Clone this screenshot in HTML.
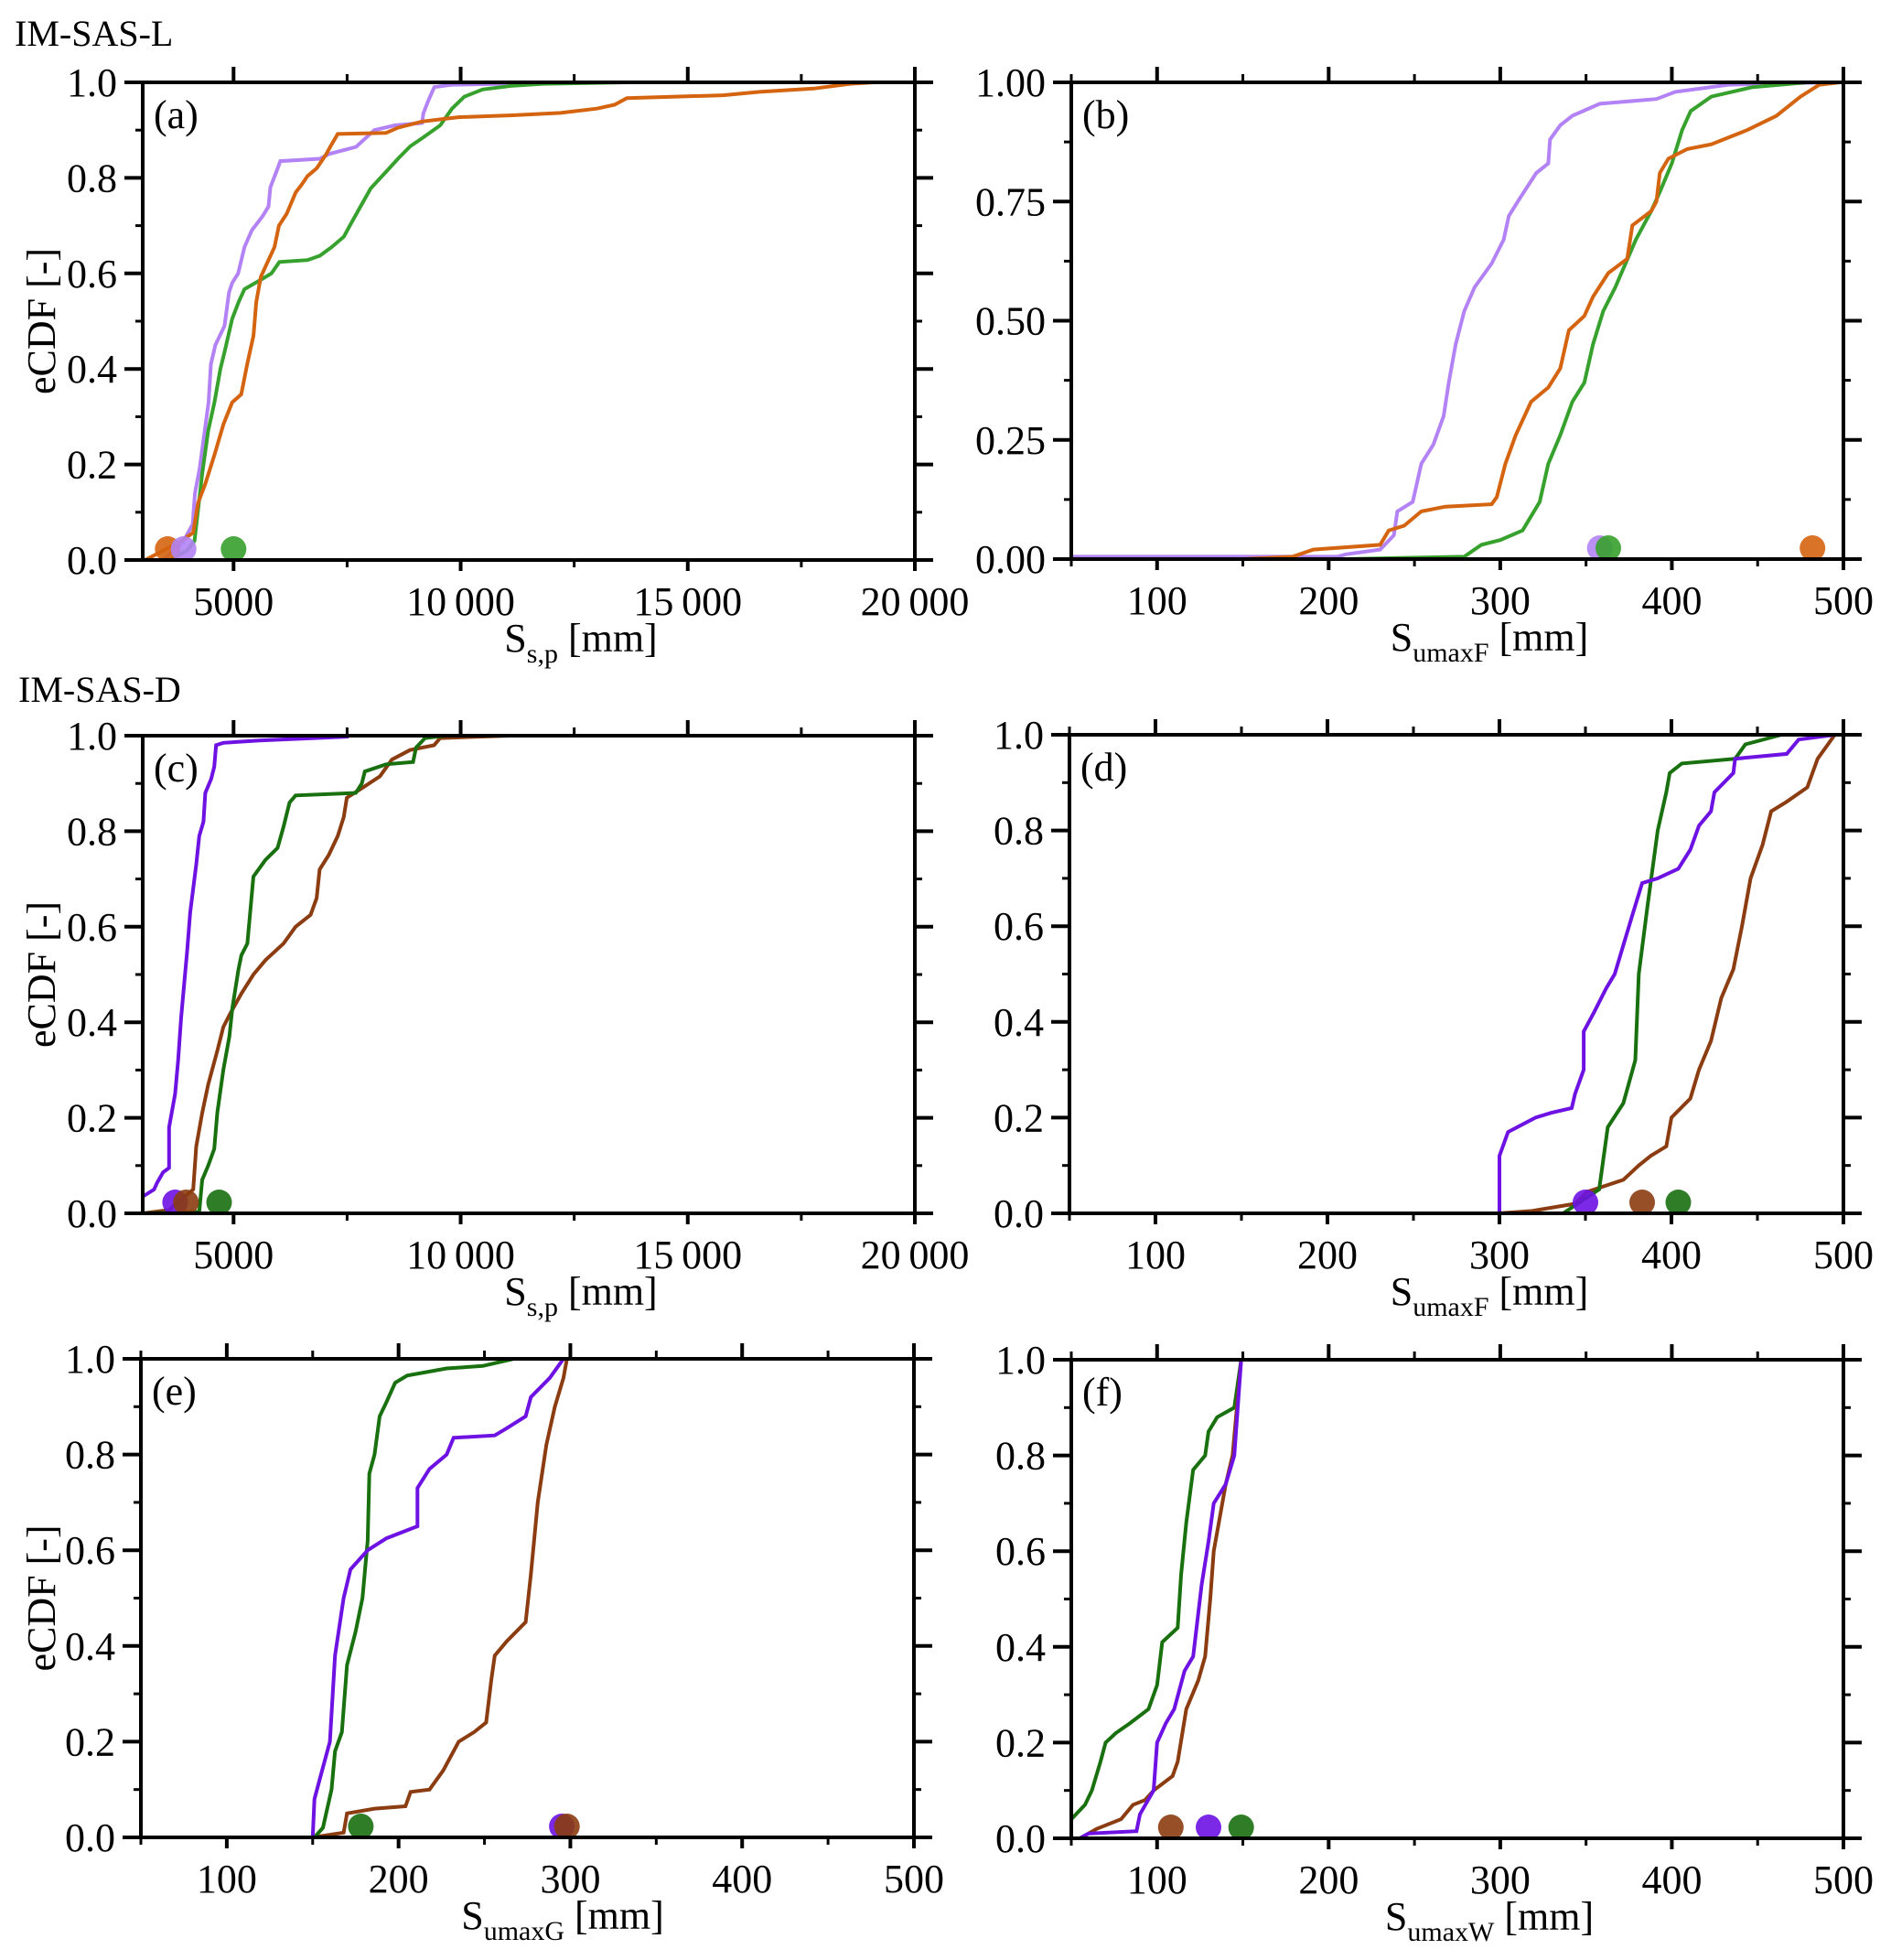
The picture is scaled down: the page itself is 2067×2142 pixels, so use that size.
<!DOCTYPE html>
<html><head><meta charset="utf-8">
<style>
html,body{margin:0;padding:0;background:#fff;}
svg{display:block;}
text{font-family:"Liberation Serif","Times New Roman",serif;fill:#000;}
</style></head>
<body>
<svg id="fig" width="2067" height="2142" viewBox="0 0 2067 2142" xmlns="http://www.w3.org/2000/svg">
<rect x="0" y="0" width="2067" height="2142" fill="#fff"/>
<text x="16" y="50" font-size="40">IM-SAS-L</text>
<text x="20" y="767" font-size="40">IM-SAS-D</text>
</svg>
<script>
// ---------- data ----------
// panel a
const aPurpleX=[3450,3900,4100,4150,4250,4450,4500,4600,4800,4900,4970,5100,5240,5400,5640,5770,5810,5970,6030,6900,7100,7700,8100,8550,9150,9180,9280,9420,9800,13100];
const aPurpleY=[0,0.04,0.075,0.14,0.19,0.33,0.41,0.45,0.49,0.56,0.58,0.6,0.655,0.69,0.72,0.74,0.78,0.82,0.835,0.84,0.85,0.865,0.9,0.91,0.915,0.935,0.96,0.99,0.995,1.0];
const aGreenX=[3580,3980,4140,4310,4440,4580,4710,4800,4970,5110,5240,5570,5835,6010,6630,6900,7160,7430,7560,7760,8020,8360,8620,8890,9150,9550,9810,10080,10480,11140,11800,13660];
const aGreenY=[0,0.02,0.04,0.18,0.27,0.33,0.4,0.435,0.505,0.54,0.567,0.585,0.6,0.624,0.628,0.637,0.655,0.677,0.7,0.734,0.778,0.813,0.84,0.866,0.883,0.91,0.945,0.97,0.985,0.993,0.997,1.0];
const aOrangeX=[3050,3320,3850,4110,4220,4380,4580,4780,4970,5170,5300,5440,5500,5600,5770,5900,6000,6170,6370,6500,6630,6830,7030,7135,7294,8355,8620,9150,9946,11140,12200,13000,13390,13660,15780,16580,17770,18570,19100];
const aOrangeY=[0,0.013,0.04,0.057,0.12,0.16,0.22,0.285,0.33,0.347,0.41,0.47,0.54,0.593,0.628,0.655,0.7,0.725,0.77,0.786,0.804,0.82,0.848,0.866,0.892,0.894,0.905,0.918,0.927,0.931,0.936,0.945,0.953,0.967,0.973,0.98,0.987,0.997,1.0];
const aDots=[3550,3900,5000];
// panel b
const bPurpleX=[50,205,210,230,238,240,249,254,261,267,270,274,279,285,295,302,305,312,321,328,329,335,342,358,391,402,433,490];
const bPurpleY=[0.005,0.005,0.01,0.02,0.05,0.1,0.12,0.2,0.24,0.3,0.37,0.45,0.52,0.57,0.62,0.67,0.72,0.76,0.81,0.83,0.88,0.91,0.93,0.955,0.965,0.98,0.995,1.0];
const bOrangeX=[150,179,191,230,235,244,254,268,295,298,303,309,318,328,335,340,349,354,363,374,377,388,391,393,398,409,423,444,461,475,486,498];
const bOrangeY=[0,0.005,0.02,0.03,0.06,0.07,0.1,0.11,0.115,0.13,0.2,0.26,0.33,0.36,0.4,0.48,0.51,0.55,0.6,0.63,0.7,0.73,0.75,0.81,0.84,0.86,0.87,0.9,0.93,0.97,0.995,1.0];
const bGreenX=[210,279,289,300,313,323,328,335,342,349,354,360,367,379,388,393,400,406,411,423,447,479];
const bGreenY=[0,0.005,0.03,0.04,0.06,0.12,0.2,0.26,0.33,0.37,0.45,0.52,0.57,0.67,0.73,0.77,0.83,0.9,0.94,0.97,0.99,1.0];
const bDots=[358,363,482];
// panel c
const cPurpleX=[3000,3250,3316,3449,3581,3581,3714,3780,3846,3913,3979,4045,4112,4178,4244,4337,4377,4509,4576,4615,4775,5570,7533];
const cPurpleY=[0.035,0.05,0.064,0.086,0.095,0.18,0.25,0.32,0.41,0.48,0.55,0.63,0.68,0.73,0.79,0.82,0.88,0.91,0.935,0.98,0.985,0.99,0.998];
const cBrownX=[3000,3581,4112,4178,4310,4443,4642,4775,4907,5172,5438,5703,6101,6366,6697,6830,6896,7095,7294,7427,7493,7824,8222,8487,8885,9415,9548,11073];
const cBrownY=[0,0.007,0.05,0.14,0.21,0.27,0.34,0.39,0.415,0.46,0.5,0.53,0.565,0.6,0.625,0.66,0.72,0.75,0.79,0.83,0.87,0.89,0.915,0.95,0.97,0.98,0.995,1.0];
const cGreenX=[3000,4244,4310,4443,4576,4642,4775,4907,4973,5106,5172,5305,5371,5438,5703,5968,6101,6233,6366,7692,7824,7891,8355,8952,9018,9216,9680];
const cGreenY=[0,0.003,0.07,0.1,0.135,0.21,0.3,0.37,0.43,0.51,0.54,0.565,0.635,0.705,0.74,0.765,0.81,0.86,0.875,0.88,0.9,0.925,0.94,0.945,0.975,0.995,1.0];
const cDots=[3714,3953,4682];
// panel d
const dPurpleX=[300,300,305,321,330,342,344,349,349,355,362,367,372,377,383,392,404,411,416,423,425,436,437,467,474,495];
const dPurpleY=[0,0.12,0.17,0.2,0.21,0.22,0.25,0.3,0.38,0.42,0.47,0.5,0.56,0.62,0.69,0.7,0.72,0.76,0.81,0.84,0.88,0.92,0.95,0.96,0.99,1.0];
const dGreenX=[337,358,363,372,379,381,386,392,397,399,406,437,443,464];
const dGreenY=[0,0.05,0.18,0.23,0.32,0.5,0.64,0.8,0.88,0.92,0.94,0.95,0.98,1.0];
const dBrownX=[300,319,344,351,372,381,388,397,400,411,416,423,429,436,441,446,453,458,467,479,485,495];
const dBrownY=[0,0.005,0.02,0.045,0.07,0.1,0.12,0.14,0.2,0.24,0.3,0.36,0.45,0.51,0.6,0.7,0.77,0.84,0.86,0.89,0.95,1.0];
const dDots=[350,383,404];
// panel e
const eGreenX=[151,156,161,163,167,170,175,179,182,183,186,189,193,198,205,228,249,267];
const eGreenY=[0,0.02,0.1,0.18,0.22,0.36,0.43,0.5,0.62,0.76,0.8,0.88,0.91,0.95,0.965,0.98,0.985,1.0];
const ePurpleX=[150,151,154,160,163,168,172,182,193,211,211,218,228,232,256,263,274,277,288,296];
const ePurpleY=[0,0.08,0.12,0.2,0.38,0.5,0.56,0.6,0.625,0.65,0.73,0.77,0.8,0.835,0.84,0.855,0.88,0.92,0.96,1.0];
const eBrownX=[150,168,170,186,204,207,218,226,235,244,251,254,256,263,274,277,281,286,291,296,298];
const eBrownY=[0,0.01,0.05,0.06,0.065,0.095,0.1,0.14,0.2,0.22,0.24,0.33,0.38,0.41,0.45,0.55,0.7,0.82,0.9,0.96,1.0];
const eDots=[178,295,298];
// panel f
const fGreenX=[50,50,58,62,67,70,76,84,95,100,103,112,114,117,121,128,130,135,145,149];
const fGreenY=[0,0.04,0.07,0.1,0.16,0.2,0.22,0.24,0.27,0.32,0.41,0.44,0.55,0.66,0.77,0.8,0.85,0.88,0.9,1.0];
const fPurpleX=[55,60,88,90,98,100,105,110,116,121,126,130,133,140,145,149];
const fPurpleY=[0,0.01,0.015,0.05,0.1,0.2,0.24,0.27,0.35,0.38,0.53,0.62,0.7,0.74,0.8,1.0];
const fBrownX=[55,65,79,86,93,98,109,112,117,124,128,131,133,137,140,144,149];
const fBrownY=[0,0.02,0.04,0.07,0.08,0.1,0.13,0.16,0.27,0.33,0.38,0.5,0.6,0.68,0.74,0.8,1.0];
const fDots=[108,130,149];

// tick labels
const xTicksS=[5000,10000,15000,20000];
const xTickLabelsS=["5000","10\u2009000","15\u2009000","20\u2009000"];
const xMinorS=[7500,12500,17500];
const xTicksU=[100,200,300,400,500];
const xMinorU=[50,150,250,350,450];
const yTicks10=[0,0.2,0.4,0.6,0.8,1.0];
const yTickLabels10=["0.0","0.2","0.4","0.6","0.8","1.0"];
const yMinor10=[0.1,0.3,0.5,0.7,0.9];
const yTicks4=[0,0.25,0.5,0.75,1.0];
const yTickLabels4=["0.00","0.25","0.50","0.75","1.00"];
const yMinor4=[0.125,0.375,0.625,0.875];

const LP="#b383f5",OR="#d4640f",GL="#36a12c",DP="#6d12e3",BR="#8b3c10",DG="#18700f";
const NS="http://www.w3.org/2000/svg";
const svg=document.getElementById('fig');
function mk(tag,attrs,parent){const e=document.createElementNS(NS,tag);for(const k in attrs)e.setAttribute(k,attrs[k]);(parent||svg).appendChild(e);return e;}

const panels=[
 {id:'a',L:156,R:1000,T:90,B:612,x0:3000,x1:20000,xt:xTicksS,xl:xTickLabelsS,xm:xMinorS,yt:yTicks10,yl:yTickLabels10,ym:yMinor10,ylab:true,title:['S','s,p'],tx:635,
  series:[[aPurpleX,aPurpleY,LP],[aGreenX,aGreenY,GL],[aOrangeX,aOrangeY,OR]],dots:[[aDots[0],OR],[aDots[1],LP],[aDots[2],GL]]},
 {id:'b',L:1171,R:2015,T:90,B:611,x0:50,x1:500,xt:xTicksU,xl:null,xm:xMinorU,yt:yTicks4,yl:yTickLabels4,ym:yMinor4,ylab:false,title:['S','umaxF'],tx:1628,
  series:[[bPurpleX,bPurpleY,LP],[bGreenX,bGreenY,GL],[bOrangeX,bOrangeY,OR]],dots:[[bDots[0],LP],[bDots[1],GL],[bDots[2],OR]]},
 {id:'c',L:156,R:1000,T:804,B:1326,x0:3000,x1:20000,xt:xTicksS,xl:xTickLabelsS,xm:xMinorS,yt:yTicks10,yl:yTickLabels10,ym:yMinor10,ylab:true,title:['S','s,p'],tx:635,
  series:[[cBrownX,cBrownY,BR],[cGreenX,cGreenY,DG],[cPurpleX,cPurpleY,DP]],dots:[[cDots[0],DP],[cDots[1],BR],[cDots[2],DG]]},
 {id:'d',L:1169,R:2015,T:803,B:1326,x0:50,x1:500,xt:xTicksU,xl:null,xm:xMinorU,yt:yTicks10,yl:yTickLabels10,ym:yMinor10,ylab:false,title:['S','umaxF'],tx:1628,
  series:[[dBrownX,dBrownY,BR],[dGreenX,dGreenY,DG],[dPurpleX,dPurpleY,DP]],dots:[[dDots[0],DP],[dDots[1],BR],[dDots[2],DG]]},
 {id:'e',L:154,R:999,T:1485,B:2008,x0:50,x1:500,xt:xTicksU,xl:null,xm:xMinorU,yt:yTicks10,yl:yTickLabels10,ym:yMinor10,ylab:true,title:['S','umaxG'],tx:615,
  series:[[eBrownX,eBrownY,BR],[eGreenX,eGreenY,DG],[ePurpleX,ePurpleY,DP]],dots:[[eDots[0],DG],[eDots[1],DP],[eDots[2],BR]]},
 {id:'f',L:1171,R:2015,T:1486,B:2009,x0:50,x1:500,xt:xTicksU,xl:null,xm:xMinorU,yt:yTicks10,yl:yTickLabels10,ym:yMinor10,ylab:false,title:['S','umaxW'],tx:1628,
  series:[[fGreenX,fGreenY,DG],[fBrownX,fBrownY,BR],[fPurpleX,fPurpleY,DP]],dots:[[fDots[0],BR],[fDots[1],DP],[fDots[2],DG]]}
];

panels.forEach(p=>{
 const g=mk('g',{});
 
 
 const sx=v=>p.L+(v-p.x0)/(p.x1-p.x0)*(p.R-p.L);
 const sy=v=>p.B-v*(p.B-p.T);
 const cp=mk('clipPath',{id:'clip-'+p.id},g);
 mk('rect',{x:p.L,y:p.T-3,width:p.R-p.L,height:p.B-p.T+3},cp);
 // series
 p.series.forEach((s,i)=>{
  const pts=s[0].map((x,j)=>sx(x).toFixed(1)+','+sy(s[1][j]).toFixed(1)).join(' ');
  const pl=mk('polyline',{points:pts,fill:'none',stroke:s[2],'stroke-width':4,'stroke-linejoin':'miter','clip-path':'url(#clip-'+p.id+')'},g);
  
  
 });
 // dots
 p.dots.forEach((d,i)=>{
  const c=mk('circle',{cx:sx(d[0]).toFixed(1),cy:p.B-12,r:14,fill:d[1],'fill-opacity':0.9},g);
  
  
 });
 // frame
 const fr=mk('rect',{x:p.L,y:p.T,width:p.R-p.L,height:p.B-p.T,fill:'none',stroke:'#000','stroke-width':4},g);
 
 
 // x ticks
 p.xt.forEach((v,i)=>{
  const x=sx(v);
  mk('line',{x1:x,y1:p.T,x2:x,y2:p.T-17,stroke:'#000','stroke-width':4},g);
  mk('line',{x1:x,y1:p.B,x2:x,y2:p.B+12,stroke:'#000','stroke-width':4},g);
  const t=mk('text',{x:x,y:p.B+60,'font-size':44,'text-anchor':'middle'},g);
  t.textContent=p.xl?p.xl[i]:String(v);
  
  
 });
 p.xm.forEach(v=>{
  const x=sx(v);
  mk('line',{x1:x,y1:p.T,x2:x,y2:p.T-9,stroke:'#000','stroke-width':3},g);
  mk('line',{x1:x,y1:p.B,x2:x,y2:p.B+8,stroke:'#000','stroke-width':3},g);
 });
 // y ticks
 p.yt.forEach((v,i)=>{
  const y=sy(v);
  mk('line',{x1:p.L-20,y1:y,x2:p.L,y2:y,stroke:'#000','stroke-width':4},g);
  mk('line',{x1:p.R,y1:y,x2:p.R+20,y2:y,stroke:'#000','stroke-width':4},g);
  const t=mk('text',{x:p.L-28,y:y+15,'font-size':44,'text-anchor':'end'},g);
  t.textContent=p.yl[i];
  
  
 });
 p.ym.forEach(v=>{
  const y=sy(v);
  mk('line',{x1:p.L-8,y1:y,x2:p.L,y2:y,stroke:'#000','stroke-width':3},g);
  mk('line',{x1:p.R,y1:y,x2:p.R+8,y2:y,stroke:'#000','stroke-width':3},g);
 });
 // panel label
 const pl=mk('text',{x:p.L+12,y:p.T+50,'font-size':44},g);
 pl.textContent='('+p.id+')';
 
 
 // x title
 const xt=mk('text',{x:p.tx,y:p.B+100,'font-size':44,'text-anchor':'middle'},g);
 
 
 const t1=mk('tspan',{},xt);t1.textContent=p.title[0];
 const t2=mk('tspan',{dy:12,'font-size':30},xt);t2.textContent=p.title[1];
 const t3=mk('tspan',{dy:-12},xt);t3.textContent=' [mm]';
 // y title
 if(p.ylab){
  const cy=(p.T+p.B)/2;
  const yt=mk('text',{x:0,y:0,'font-size':44,'text-anchor':'middle',transform:'translate(60,'+cy+') rotate(-90)'},g);
  yt.textContent='eCDF [-]';
  
  
 }
});
</script>
</body></html>
